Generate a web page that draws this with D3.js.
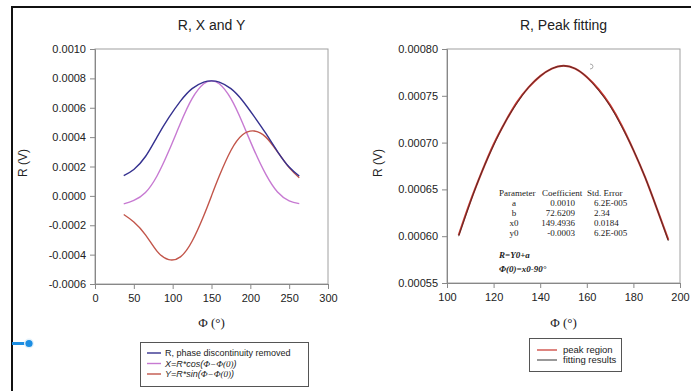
<!DOCTYPE html>
<html>
<head>
<meta charset="utf-8">
<script src="https://cdn.jsdelivr.net/npm/d3@7"></script>
<style>
  html, body { margin: 0; padding: 0; background: #fff; }
  svg { display: block; }
</style>
</head>
<body>
<div id="chart"></div>
<script>
// left panel: R, X, Y vs phase
const phi = [37, 50, 65, 80, 95, 110, 125, 140, 150, 160, 175, 190, 205, 220, 235, 250, 263];
const rValues = [0.000138, 0.000180, 0.000268, 0.000402, 0.000532, 0.000645, 0.000730, 0.000775, 0.000783,
  0.000775, 0.000730, 0.000648, 0.000540, 0.000425, 0.000302, 0.000196, 0.000135];
const xValues = [-0.000054, -0.000031, 0.000023, 0.000137, 0.000305, 0.000494, 0.000662, 0.000763, 0.000783,
  0.000763, 0.000662, 0.000496, 0.000310, 0.000146, 0.000026, -0.000034, -0.000053];
const yValues = [-0.000127, -0.000178, -0.000265, -0.000378, -0.000434, -0.000415, -0.000309, -0.000135, 0.000000,
  0.000135, 0.000309, 0.000416, 0.000442, 0.000400, 0.000300, 0.000192, 0.000124];

// right panel: peak region and fit
const phiPeak = [105, 110, 115, 120, 125, 130, 135, 140, 145, 150, 155, 160, 165, 170, 175, 180, 185, 190, 195];
const peakValues = [0.000601, 0.000637, 0.000669, 0.000698, 0.000722, 0.000743, 0.000759, 0.000771, 0.000779, 0.000782,
  0.000779, 0.000770, 0.000757, 0.000740, 0.000718, 0.000692, 0.000663, 0.000630, 0.000596];
const fitValues = [0.000600, 0.000636, 0.000669, 0.000697, 0.000722, 0.000742, 0.000759, 0.000771, 0.000779, 0.000782,
  0.000779, 0.000770, 0.000756, 0.000739, 0.000717, 0.000692, 0.000663, 0.000630, 0.000595];

const leftXTicks = [0, 50, 100, 150, 200, 250, 300];
const leftYTicks = [-0.0006, -0.0004, -0.0002, 0, 0.0002, 0.0004, 0.0006, 0.0008, 0.0010];
const rightXTicks = [100, 120, 140, 160, 180, 200];
const rightYTicks = [0.00055, 0.00060, 0.00065, 0.00070, 0.00075, 0.00080];

const paramRows = [
  ['a', '0.0010', '6.2E-005'],
  ['b', '72.6209', '2.34'],
  ['x0', '149.4936', '0.0184'],
  ['y0', '-0.0003', '6.2E-005']
];

const W = 691, H = 391;
const sans = 'Arial, "Liberation Sans", sans-serif';
const serif = '"Times New Roman", "Liberation Serif", serif';

const svg = d3.select('#chart').append('svg')
  .attr('width', W).attr('height', H);

svg.append('rect').attr('width', W).attr('height', H).attr('fill', '#fff');

// page frame lines
svg.append('line').attr('x1', 11).attr('x2', W).attr('y1', 7).attr('y2', 7)
  .attr('stroke', '#111').attr('stroke-width', 2);
svg.append('line').attr('x1', 12).attr('x2', 12).attr('y1', 6).attr('y2', H)
  .attr('stroke', '#111').attr('stroke-width', 2);

// little blue handle on the left edge
svg.append('line').attr('x1', 12).attr('x2', 28).attr('y1', 343.5).attr('y2', 343.5)
  .attr('stroke', '#1c8ee3').attr('stroke-width', 3);
svg.append('circle').attr('cx', 29).attr('cy', 343.5).attr('r', 5).attr('fill', '#e3f1fb');
svg.append('circle').attr('cx', 29).attr('cy', 343.5).attr('r', 3.6).attr('fill', '#1c8ee3');

function panel(opt) {
  const x = d3.scaleLinear().domain(opt.xDomain).range([opt.left, opt.right]);
  const y = d3.scaleLinear().domain(opt.yDomain).range([opt.bottom, opt.top]);
  const g = svg.append('g');

  g.append('rect')
    .attr('x', opt.left).attr('y', opt.top)
    .attr('width', opt.right - opt.left).attr('height', opt.bottom - opt.top)
    .attr('fill', 'none').attr('stroke', '#a0a0a0').attr('stroke-width', 1);

  const yAxis = g.append('g')
    .attr('transform', `translate(${opt.left},0)`)
    .call(d3.axisLeft(y).tickValues(opt.yTicks).tickSize(5).tickPadding(4)
      .tickFormat(d => d.toFixed(opt.yDigits)));
  const xAxis = g.append('g')
    .attr('transform', `translate(0,${opt.bottom})`)
    .call(d3.axisBottom(x).tickValues(opt.xTicks).tickSize(5).tickPadding(5)
      .tickFormat(d3.format('d')));

  [yAxis, xAxis].forEach(a => {
    a.select('.domain').attr('stroke', '#888');
    a.selectAll('.tick line').attr('stroke', '#888');
    a.selectAll('.tick text').attr('fill', '#222')
      .style('font-family', sans).style('font-size', '11px');
  });

  g.append('text')
    .attr('x', (opt.left + opt.right) / 2).attr('y', 30)
    .attr('text-anchor', 'middle')
    .style('font-family', sans).style('font-size', '14px').attr('fill', '#222')
    .text(opt.title);

  g.append('text')
    .attr('transform', `translate(${opt.yLabelX},163) rotate(-90)`)
    .attr('text-anchor', 'middle').attr('dy', '0.35em')
    .style('font-family', sans).style('font-size', '12px').attr('fill', '#222')
    .text('R (V)');

  g.append('text')
    .attr('x', (opt.left + opt.right) / 2).attr('y', 327)
    .attr('text-anchor', 'middle')
    .style('font-family', serif).style('font-size', '13px').attr('fill', '#222')
    .text('\u03A6 (\u00B0)');

  return { g, x, y };
}

// ---- left panel
const L = panel({
  left: 95, right: 328, top: 49, bottom: 284,
  xDomain: [0, 300], yDomain: [-0.0006, 0.0010],
  xTicks: leftXTicks, yTicks: leftYTicks, yDigits: 4,
  title: 'R, X and Y', yLabelX: 23
});

const leftSeries = [
  { vals: xValues, color: '#c77ad2' },
  { vals: yValues, color: '#c2554a' },
  { vals: rValues, color: '#35318f' }
];
leftSeries.forEach(s => {
  const line = d3.line()
    .x((d, i) => L.x(phi[i]))
    .y(d => L.y(d))
    .curve(d3.curveNatural);
  L.g.append('path').datum(s.vals)
    .attr('d', line).attr('fill', 'none')
    .attr('stroke', s.color).attr('stroke-width', 1.4);
});

// left legend
const lg = svg.append('g');
lg.append('rect').attr('x', 140.5).attr('y', 342.5).attr('width', 168).attr('height', 44)
  .attr('fill', '#fff').attr('stroke', '#555');
const legendLeft = [
  { color: '#35318f', y: 353 },
  { color: '#c77ad2', y: 363.5 },
  { color: '#c2554a', y: 374 }
];
legendLeft.forEach(d => {
  lg.append('line').attr('x1', 147).attr('x2', 161).attr('y1', d.y).attr('y2', d.y)
    .attr('stroke', d.color).attr('stroke-width', 1.4);
});
const lt = (yy) => lg.append('text').attr('x', 165).attr('y', yy).attr('dy', '0.35em')
  .style('font-family', sans).style('font-size', '9px').attr('fill', '#222');
lt(353).text('R, phase discontinuity removed');
const t2 = lt(363.5).style('font-style', 'italic');
t2.append('tspan').text('X=R*cos(');
t2.append('tspan').style('font-family', serif).text('\u03A6\u2212\u03A6(0)');
t2.append('tspan').text(')');
const t3 = lt(374).style('font-style', 'italic');
t3.append('tspan').text('Y=R*sin(');
t3.append('tspan').style('font-family', serif).text('\u03A6\u2212\u03A6(0)');
t3.append('tspan').text(')');

// ---- right panel
const R = panel({
  left: 447, right: 680, top: 49, bottom: 283,
  xDomain: [100, 200], yDomain: [0.00055, 0.00080],
  xTicks: rightXTicks, yTicks: rightYTicks, yDigits: 5,
  title: 'R, Peak fitting', yLabelX: 378
});

const peakLine = d3.line()
  .x((d, i) => R.x(phiPeak[i]))
  .y(d => R.y(d))
  .curve(d3.curveNatural);
R.g.append('path').datum(peakValues).attr('d', peakLine)
  .attr('fill', 'none').attr('stroke', '#c8342c').attr('stroke-width', 2);
R.g.append('path').datum(fitValues).attr('d', peakLine)
  .attr('fill', 'none').attr('stroke', '#3a2a2a').attr('stroke-width', 0.8);

// stray mark near the top
R.g.append('path')
  .attr('d', 'M590,64 q3,0 3,2.5 q0,2.5 -3,2.5')
  .attr('fill', 'none').attr('stroke', '#aaa').attr('stroke-width', 1);

// parameter table
const tbl = R.g.append('g')
  .style('font-family', serif).style('font-size', '9px').attr('fill', '#222');
tbl.append('text').attr('x', 499).attr('y', 196).text('Parameter');
tbl.append('text').attr('x', 542).attr('y', 196).text('Coefficient');
tbl.append('text').attr('x', 587).attr('y', 196).text('Std. Error');
paramRows.forEach((r, i) => {
  const yy = 206 + i * 10;
  tbl.append('text').attr('x', 514).attr('y', yy).attr('text-anchor', 'middle').text(r[0]);
  tbl.append('text').attr('x', 575).attr('y', yy).attr('text-anchor', 'end').text(r[1]);
  tbl.append('text').attr('x', 594).attr('y', yy).text(r[2]);
});
tbl.append('text').attr('x', 499).attr('y', 258)
  .style('font-weight', 'bold').style('font-style', 'italic').text('R=Y0+a');
tbl.append('text').attr('x', 499).attr('y', 272)
  .style('font-weight', 'bold').style('font-style', 'italic').text('\u03A6(0)=x0-90\u00B0');

// right legend
const rg = svg.append('g');
rg.append('rect').attr('x', 529.5).attr('y', 338.5).attr('width', 92).attr('height', 33)
  .attr('fill', '#fff').attr('stroke', '#555');
[{ color: '#c8342c', y: 350, label: 'peak region' },
 { color: '#555', y: 360, label: 'fitting results' }].forEach(d => {
  rg.append('line').attr('x1', 537).attr('x2', 557).attr('y1', d.y).attr('y2', d.y)
    .attr('stroke', d.color).attr('stroke-width', 1.2);
  rg.append('text').attr('x', 563).attr('y', d.y).attr('dy', '0.35em')
    .style('font-family', sans).style('font-size', '9.5px').attr('fill', '#222')
    .text(d.label);
});
</script>
</body>
</html>
